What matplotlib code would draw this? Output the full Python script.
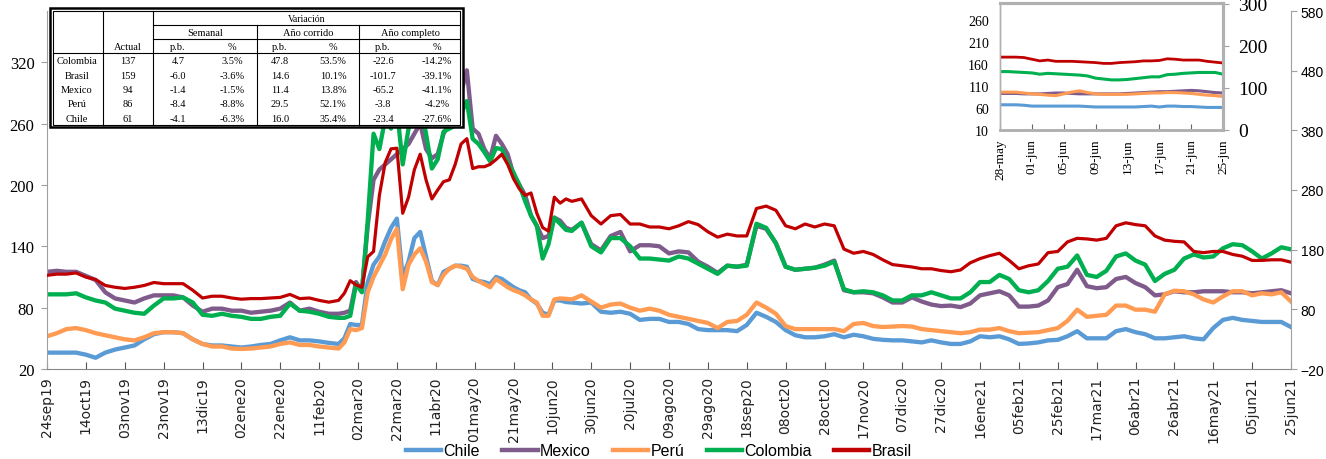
import numpy as np
import pandas as pd
import matplotlib
matplotlib.use("Agg")
import matplotlib.pyplot as plt
from matplotlib.patches import Rectangle
from matplotlib.lines import Line2D

# ---------------- datos (pb) ----------------
inicio = pd.Timestamp("2019-09-24")
fin = pd.Timestamp("2021-06-25")
# dias desde el 24sep19: cada 5 dias, cada 3 en el choque mar-may 2020
dias = list(range(0, 151, 5)) + list(range(153, 268, 3)) + list(range(270, 641, 5))

chile = [36, 36, 36, 36, 34, 31, 36, 39, 41, 43, 49, 54, 56, 56, 55, 49, 44.5, 43, 43, 42, 41, 42, 43.5, 44.5, 48, 51, 48, 48, 47, 45.5, 44.5,
         50, 64, 63, 63, 105, 122, 130, 145, 158, 167, 110, 125, 148, 154, 130, 106, 102, 115, 118, 121, 121, 120, 108, 106, 105, 103, 110, 108, 104, 100, 97, 95, 88, 84, 75, 73, 87, 87, 85.5,
         85, 84, 85, 76, 75, 76, 74, 68, 69, 69, 66, 66, 64, 59, 58, 58, 58, 57, 63, 75, 71, 66, 58, 53,
         51, 51, 52, 54, 51, 53.5, 52, 49.5, 48.5, 48, 48, 47, 46, 48, 46, 44.5, 44.5, 47, 52, 51, 52, 49, 44.5, 45, 46, 48,
         48.5, 52, 57, 50, 50, 50, 57, 59, 56, 54, 50, 50, 51, 52, 50, 49, 60, 68, 70, 68, 67, 66, 66, 66, 61]
mexico = [115, 116, 115, 115, 111, 107, 95, 89, 87, 85, 89, 92, 92, 92, 90, 82, 76, 79, 79, 77, 77, 75, 76, 77, 79, 85, 77, 79, 76, 74, 74,
          75, 77, 105, 96, 160, 205, 215, 220, 225, 230, 235, 240, 250, 260, 235, 226, 230, 250, 260, 270, 290, 312, 255, 250, 235, 226, 248, 240, 230, 210, 200, 190, 170, 160, 148, 150, 168, 165, 158,
          156, 163, 142, 136, 150, 154, 135, 141, 141, 140, 133, 135, 134, 125, 120, 114, 121, 120, 122, 160, 157, 143, 120, 117,
          118, 119, 122, 126, 97, 95, 95, 94, 90, 85, 85, 90, 86, 83, 81.5, 82, 80.5, 84, 92, 94, 96, 92, 81, 81, 82, 87,
          100, 103, 117, 101, 99, 100, 108, 110, 104, 100, 92, 93, 96, 95, 95, 96, 96, 96, 95, 95, 94, 95, 96, 97, 94]
peru = [52, 55, 59, 60, 58, 55, 53, 51, 49, 48, 51, 55, 56, 56, 55, 49, 44.5, 42, 42, 40, 39.6, 40, 41, 42, 44.5, 46, 43.5, 43.5, 42, 41, 40,
        46, 59, 58, 60, 95, 110, 121, 132, 147, 157, 98, 122, 132, 138, 125, 105, 102, 112, 118, 121, 120, 118, 110, 106, 103, 100, 108, 104, 100, 97, 95, 92, 88, 85, 72, 72, 88, 89, 88.6,
        88, 92, 86, 80, 83, 84, 80, 77, 79, 77, 73, 71, 69, 67, 65, 60, 66, 67, 73, 85, 80, 74, 62, 59,
        59, 59, 59, 59, 57, 64, 65, 62, 61, 61.5, 62, 61.5, 59, 58, 57, 56, 55, 56, 58.5, 58.5, 60, 57, 55, 55.5, 56, 58,
        60, 67, 78, 71, 72, 73, 82, 82, 78, 78, 76, 93, 96.5, 96, 93, 88, 85, 91, 96, 96, 92, 94, 93, 95, 86]
colombia = [93, 93, 93, 94, 90, 87, 85, 79, 77, 75, 74, 82, 89, 89, 90, 85, 73, 72, 74, 72, 71, 69, 69, 71, 72, 84, 77, 76, 74, 71, 70,
            70, 72, 103, 95, 165, 250, 235, 265, 255, 275, 220, 255, 270, 280, 250, 216, 225, 252, 255, 258, 270, 282, 245, 240, 232, 223, 236, 235, 222, 212, 200, 184, 170, 160, 128, 142, 168, 162, 156,
            155, 163, 140, 134, 148, 148, 140, 128, 128, 127, 126, 130, 128, 123, 118, 113, 121, 120, 121, 162, 158, 143, 120, 117,
            118, 119, 121, 125, 98, 95, 96, 95, 92, 87, 87, 92, 92, 95, 92, 89, 89, 95, 105, 105, 112, 108, 97, 95, 97, 106,
            118, 120, 131, 112, 110, 116, 130, 133, 126, 122, 106, 113, 117, 128, 132, 129, 130, 138, 142, 141, 135, 128, 133, 139, 137]
# Brasil va en el eje derecho
brasil = [137, 139, 139, 141, 134, 130, 120, 117, 115, 117, 120, 125, 123, 123, 123, 112, 99, 102, 102, 99, 97, 98, 98, 99, 100, 105, 98, 99, 95, 92, 95,
          107, 128, 121, 117, 168, 177, 271, 326, 349, 350, 241, 268, 314, 340, 297, 265, 280, 294, 297, 323, 357, 366, 316, 319, 319, 323, 331, 340, 323, 299, 282, 271, 275, 241, 217, 211, 268, 258, 265,
          261, 265, 237, 223, 237, 239, 223, 223, 218, 218, 215, 220, 227, 222, 210, 201, 206, 203, 203, 249, 253, 246, 220, 215,
          223, 218, 223, 220, 181, 174, 177, 172, 163, 155, 153, 151, 148, 148, 145, 143, 146, 158, 165, 170, 174, 162, 148, 153, 156, 175,
          177, 193, 199, 198, 196, 199, 220, 225, 222, 220, 203, 196, 194, 193, 177, 175, 177, 177, 172, 169, 162, 162, 163, 163, 159]

etiquetas_x = ["24sep19", "14oct19", "03nov19", "23nov19", "13dic19", "02ene20", "22ene20", "11feb20",
               "02mar20", "22mar20", "11abr20", "01may20", "21may20", "10jun20", "30jun20", "20jul20",
               "09ago20", "29ago20", "18sep20", "08oct20", "28oct20", "17nov20", "07dic20", "27dic20",
               "16ene21", "05feb21", "25feb21", "17mar21", "06abr21", "26abr21", "16may21", "05jun21", "25jun21"]

# recuadro: ultimo mes diario
ins_chile = [67, 67, 67, 66, 64, 64, 64, 64, 64, 64, 64, 63, 62, 62, 62, 62, 62, 62, 63, 64, 62, 64, 64, 63, 63, 62, 61, 61, 61]
ins_mexico = [93, 93, 93, 92, 92, 92, 93, 94, 94, 93, 92, 92, 92, 92, 92, 92, 93, 94, 95, 96, 97, 97, 98, 99, 100, 99, 97, 95, 94]
ins_peru = [96, 96, 96, 94, 92, 91, 89, 88, 92, 96, 99, 95, 92, 91, 91, 91, 91, 92, 93, 94, 94, 95, 95, 94, 93, 91, 89, 88, 86]
ins_colombia = [143, 143, 142, 141, 140, 137, 139, 138, 137, 136, 135, 133, 128, 126, 124, 124, 125, 127, 129, 131, 131, 136, 137, 139, 140, 141, 141, 141, 137]
ins_brasil = [173, 173, 173, 172, 168, 164, 166, 163, 163, 163, 162, 161, 160, 158, 158, 160, 161, 162, 164, 164, 165, 169, 168, 166, 166, 166, 163, 161, 159]
etiquetas_ins = ["28-may", "01-jun", "05-jun", "09-jun", "13-jun", "17-jun", "21-jun", "25-jun"]

# tabla
tabla_paises = ["Colombia", "Brasil", "Mexico", "Perú", "Chile"]
tabla_actual = ["137", "159", "94", "86", "61"]
tabla_sem_pb = ["4.7", "-6.0", "-1.4", "-8.4", "-4.1"]
tabla_sem_pct = ["3.5%", "-3.6%", "-1.5%", "-8.8%", "-6.3%"]
tabla_ac_pb = ["47.8", "14.6", "11.4", "29.5", "16.0"]
tabla_ac_pct = ["53.5%", "10.1%", "13.8%", "52.1%", "35.4%"]
tabla_ay_pb = ["-22.6", "-101.7", "-65.2", "-3.8", "-23.4"]
tabla_ay_pct = ["-14.2%", "-39.1%", "-41.1%", "-4.2%", "-27.6%"]

colores = {"Chile": "#5B9BD5", "Mexico": "#7F5B8C", "Perú": "#FF9B52",
           "Colombia": "#00B050", "Brasil": "#C00000"}
gris = "#A0A0A0"
W, H = 1326, 460

fechas = inicio + pd.to_timedelta(dias, unit="D")

fig = plt.figure(figsize=(W / 100, H / 100), dpi=100)
ax = fig.add_axes([47 / W, 1 - 370 / H, (1291 - 47) / W, (370 - 12) / H])
ax.plot(fechas, chile, color=colores["Chile"], lw=3.1)
ax.plot(fechas, mexico, color=colores["Mexico"], lw=3.1)
ax.plot(fechas, peru, color=colores["Perú"], lw=3.1)
ax.plot(fechas, colombia, color=colores["Colombia"], lw=3.1)
ax.set_ylim(20, 370)
ax.set_yticks(range(20, 321, 60))
ax.set_xlim(inicio, fin)
ax.set_xticks(pd.date_range(inicio, periods=len(etiquetas_x), freq="20D"))
ax.set_xticklabels(etiquetas_x, rotation=90, family="DejaVu Sans", fontsize=10, color="#222222")
for lab in ax.get_yticklabels():
    lab.set_family("Liberation Serif")
ax.tick_params(axis="y", direction="out", length=4, color=gris, labelsize=12, pad=5)
ax.tick_params(axis="x", direction="in", length=5, color="#555555", pad=5)
for s in ["top", "right"]:
    ax.spines[s].set_visible(False)
ax.spines["left"].set_color(gris)
ax.spines["bottom"].set_color("#888888")

ax2 = ax.twinx()
ax2.plot(fechas, brasil, color=colores["Brasil"], lw=2.3)
ax2.set_ylim(-20, 580)
ax2.set_yticks(range(-20, 581, 100))
for lab in ax2.get_yticklabels():
    lab.set_family("Liberation Sans")
ax2.tick_params(axis="y", direction="out", length=4, color=gris, labelsize=10, pad=3)
for s in ["top", "left", "bottom"]:
    ax2.spines[s].set_visible(False)
ax2.spines["right"].set_color(gris)

# recuadro del ultimo mes
fechas_ins = pd.date_range("2021-05-28", "2021-06-25", freq="D")
ins = fig.add_axes([1000 / W, 1 - 130.7 / H, 223 / W, 126.7 / H])
ins.plot(fechas_ins, ins_chile, color=colores["Chile"], lw=2.2)
ins.plot(fechas_ins, ins_mexico, color=colores["Mexico"], lw=2.2)
ins.plot(fechas_ins, ins_peru, color=colores["Perú"], lw=2.2)
ins.plot(fechas_ins, ins_colombia, color=colores["Colombia"], lw=2.2)
ins.set_xlim(fechas_ins[0], fechas_ins[-1])
ins.set_ylim(10, 300)
ins.set_yticks(range(10, 261, 50))
ins.set_xticks(pd.date_range("2021-05-28", periods=len(etiquetas_ins), freq="4D"))
ins.set_xticklabels(etiquetas_ins, rotation=90, family="Liberation Serif", fontsize=9.5)
for lab in ins.get_yticklabels():
    lab.set_family("Liberation Serif")
ins.tick_params(axis="y", length=0, labelsize=10, pad=8)
ins.tick_params(axis="x", direction="in", length=4, color="#666666", pad=6)
ins_r = ins.twinx()
ins_r.plot(fechas_ins, ins_brasil, color=colores["Brasil"], lw=2.0)
ins_r.set_ylim(0, 302)
ins_r.set_yticks(range(0, 301, 100))
for lab in ins_r.get_yticklabels():
    lab.set_family("Liberation Serif")
ins_r.tick_params(axis="y", direction="out", length=4, color=gris, labelsize=14, pad=7)
for a in (ins, ins_r):
    for s in a.spines.values():
        s.set_color("#B0B0B0")
    a.spines["top"].set_linewidth(2.2)
    a.spines["right"].set_linewidth(2.2)
    a.spines["bottom"].set_linewidth(1.8)
    a.spines["left"].set_linewidth(1.0)

# tabla de variaciones
tx = fig.add_axes([46 / W, 1 - 132 / H, 421 / W, 127 / H])
tx.set_xlim(46, 467)
tx.set_ylim(132, 5)
tx.axis("off")
tx.add_patch(Rectangle((50, 9.3), 413, 119, facecolor="white", edgecolor="black", lw=1.8))
tx.add_patch(Rectangle((52.6, 11.9), 407.8, 113.8, facecolor="none", edgecolor="black", lw=0.8))
lk = dict(color="black", lw=0.8)
tx.plot([103.3, 103.3], [11.9, 125.7], **lk)
tx.plot([153.3, 153.3], [11.9, 125.7], **lk)
tx.plot([153.3, 460.4], [26, 26], **lk)
tx.plot([256.7, 256.7], [26, 125.7], **lk)
tx.plot([359, 359], [26, 125.7], **lk)
tx.plot([153.3, 460.4], [40, 40], **lk)
tx.plot([52.6, 460.4], [54, 54], **lk)

tf = dict(family="Liberation Serif", fontsize=7.5, ha="center", va="center")
tx.text(307, 19, "Variación", **dict(tf, fontsize=7))
tx.text(205, 33.5, "Semanal", **tf)
tx.text(308, 33.5, "Año corrido", **tf)
tx.text(410, 33.5, "Año completo", **tf)
col_x = [77, 128, 178, 232, 280, 333, 383, 437]
for x, t in zip(col_x[1:], ["Actual", "p.b.", "%", "p.b.", "%", "p.b.", "%"]):
    tx.text(x, 48, t, **tf)
fila_y = [62, 76.3, 90.5, 104.8, 119]
columnas = [tabla_paises, tabla_actual, tabla_sem_pb, tabla_sem_pct,
            tabla_ac_pb, tabla_ac_pct, tabla_ay_pb, tabla_ay_pct]
for x, col in zip(col_x, columnas):
    for y, t in zip(fila_y, col):
        tx.text(x, y, t, **tf)

# leyenda
nombres = ["Chile", "Mexico", "Perú", "Colombia", "Brasil"]
handles = [Line2D([0], [0], color=colores[n], lw=3.2) for n in nombres]
fig.legend(handles, nombres, loc="center", bbox_to_anchor=(0.497, 0.018), ncol=5,
           frameon=False, prop={"family": "Liberation Sans", "size": 11.5},
           handlelength=2.2, handletextpad=0.15, columnspacing=1.4)

fig.savefig("out.png", dpi=100)
